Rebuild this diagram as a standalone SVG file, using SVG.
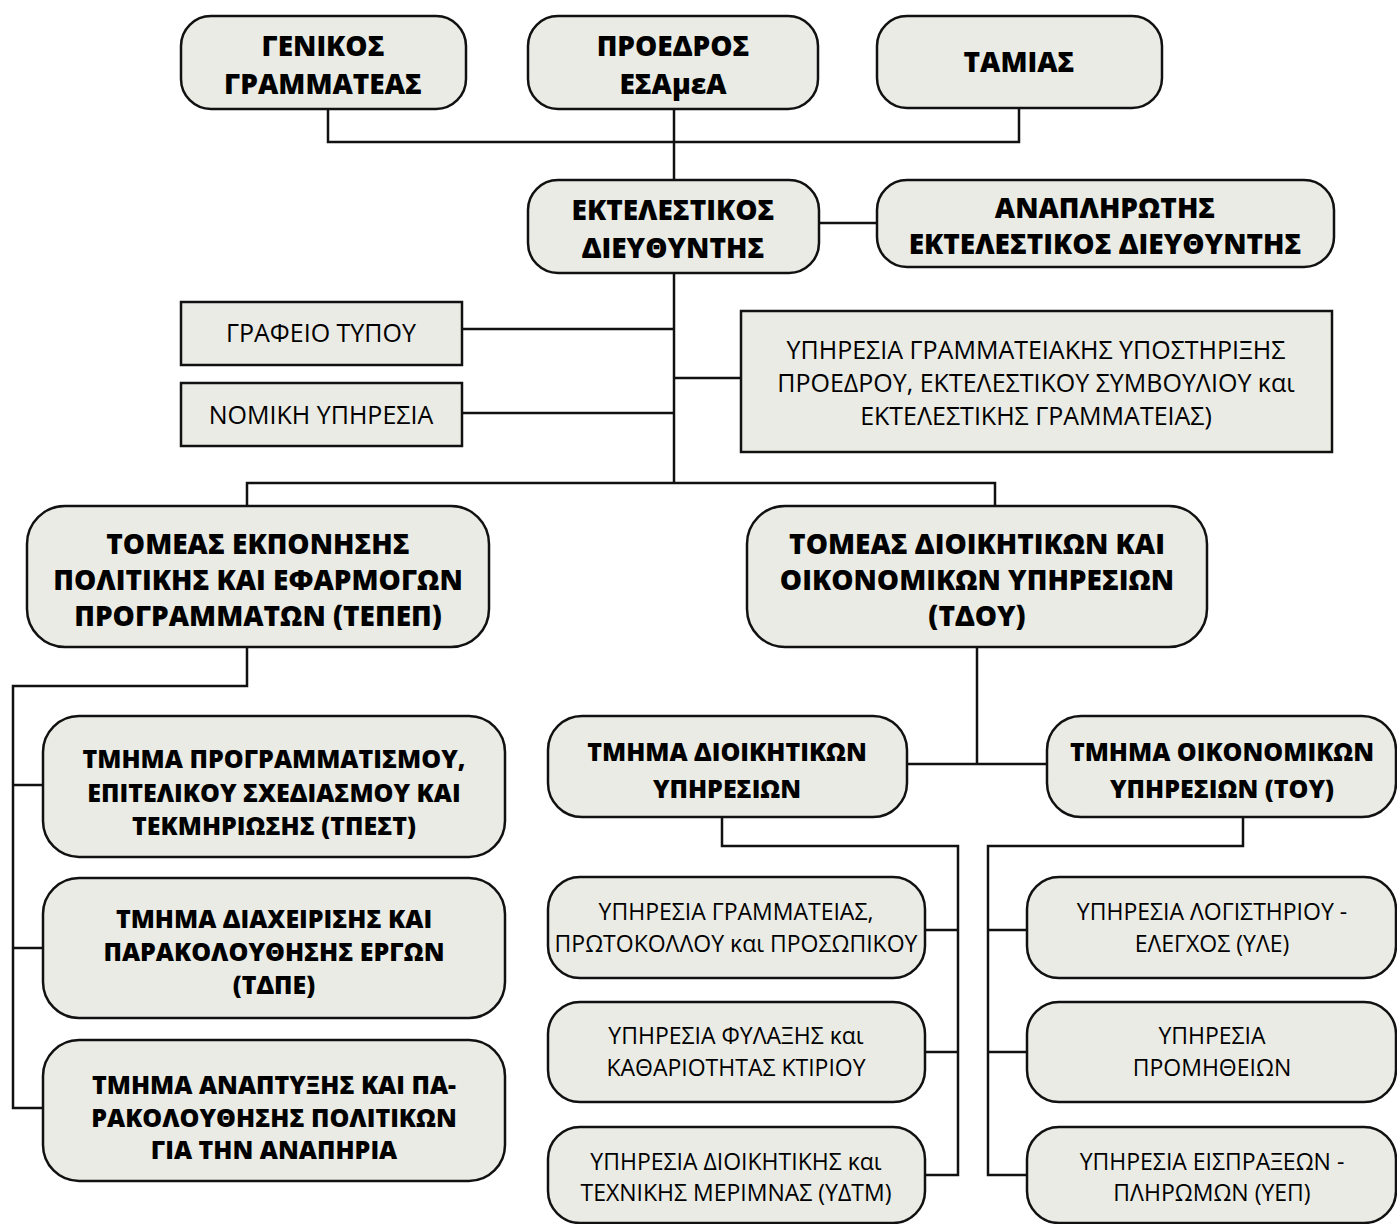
<svg xmlns="http://www.w3.org/2000/svg" width="1397" height="1224" viewBox="0 0 1397 1224">
<style>
.n{fill:#e9ebe4;stroke:#111;stroke-width:2.5}
.c{fill:none;stroke:#111;stroke-width:2.5}
.b{font-family:"Open Sans","Noto Sans","DejaVu Sans",sans-serif;font-weight:800;fill:#000;text-anchor:middle}
.r{font-family:"Open Sans","Noto Sans","DejaVu Sans",sans-serif;font-weight:400;fill:#000;text-anchor:middle;font-size:23px}
.rt{font-size:25px}
.t{font-size:28px}
.m{font-size:28px}
.s{font-size:25px}
</style>
<rect width="1397" height="1224" fill="#fff"/>
<g id="connectors">
<path class="c" d="M328 110V142H1019V108"/>
<path class="c" d="M674 110V180"/>
<path class="c" d="M819 223H877"/>
<path class="c" d="M674 273V483"/>
<path class="c" d="M462 329H674"/>
<path class="c" d="M462 413H674"/>
<path class="c" d="M674 378H741"/>
<path class="c" d="M247 506V483H995V506"/>
<path class="c" d="M247 647V686H13V1108H43"/>
<path class="c" d="M13 785H43"/>
<path class="c" d="M13 948H43"/>
<path class="c" d="M977 647V764"/>
<path class="c" d="M907 764H1047"/>
<path class="c" d="M722 817V846H958V1175H925"/>
<path class="c" d="M925 930H958"/>
<path class="c" d="M925 1052H958"/>
<path class="c" d="M1243 817V846H988V1175H1027"/>
<path class="c" d="M988 930H1027"/>
<path class="c" d="M988 1052H1027"/>
</g>
<g id="n-genikos">
<rect class="n" x="181" y="16" width="285" height="93" rx="30"/>
<text class="b t" x="323" y="56">ΓΕΝΙΚΟΣ</text>
<text class="b t" x="323" y="94">ΓΡΑΜΜΑΤΕΑΣ</text>
</g>
<g id="n-proedros">
<rect class="n" x="528" y="16" width="290" height="93" rx="30"/>
<text class="b t" x="673" y="56">ΠΡΟΕΔΡΟΣ</text>
<text class="b t" x="673" y="94">ΕΣΑμεΑ</text>
</g>
<g id="n-tamias">
<rect class="n" x="877" y="16" width="285" height="92" rx="30"/>
<text class="b t" x="1019" y="72">ΤΑΜΙΑΣ</text>
</g>
<g id="n-ektelestikos">
<rect class="n" x="528" y="180" width="291" height="93" rx="30"/>
<text class="b t" x="673" y="220">ΕΚΤΕΛΕΣΤΙΚΟΣ</text>
<text class="b t" x="673" y="258">ΔΙΕΥΘΥΝΤΗΣ</text>
</g>
<g id="n-anaplirotis">
<rect class="n" x="877" y="180" width="457" height="87" rx="30"/>
<text class="b t" x="1105" y="218">ΑΝΑΠΛΗΡΩΤΗΣ</text>
<text class="b t" x="1105" y="254">ΕΚΤΕΛΕΣΤΙΚΟΣ ΔΙΕΥΘΥΝΤΗΣ</text>
</g>
<g id="n-grafeio">
<rect class="n" x="181" y="302" width="281" height="63"/>
<text class="r rt" x="321" y="342">ΓΡΑΦΕΙΟ ΤΥΠΟΥ</text>
</g>
<g id="n-nomiki">
<rect class="n" x="181" y="383" width="281" height="63"/>
<text class="r rt" x="321" y="424">ΝΟΜΙΚΗ ΥΠΗΡΕΣΙΑ</text>
</g>
<g id="n-grammateiaki">
<rect class="n" x="741" y="311" width="591" height="141"/>
<text class="r rt" x="1036" y="359">ΥΠΗΡΕΣΙΑ ΓΡΑΜΜΑΤΕΙΑΚΗΣ ΥΠΟΣΤΗΡΙΞΗΣ</text>
<text class="r rt" x="1036" y="392">ΠΡΟΕΔΡΟΥ, ΕΚΤΕΛΕΣΤΙΚΟΥ ΣΥΜΒΟΥΛΙΟΥ και</text>
<text class="r rt" x="1036" y="425">ΕΚΤΕΛΕΣΤΙΚΗΣ ΓΡΑΜΜΑΤΕΙΑΣ)</text>
</g>
<g id="n-tepep">
<rect class="n" x="27" y="506" width="462" height="141" rx="38"/>
<text class="b m" x="258" y="554">ΤΟΜΕΑΣ ΕΚΠΟΝΗΣΗΣ</text>
<text class="b m" x="258" y="590">ΠΟΛΙΤΙΚΗΣ ΚΑΙ ΕΦΑΡΜΟΓΩΝ</text>
<text class="b m" x="258" y="626">ΠΡΟΓΡΑΜΜΑΤΩΝ (ΤΕΠΕΠ)</text>
</g>
<g id="n-tdoy">
<rect class="n" x="747" y="506" width="460" height="141" rx="38"/>
<text class="b m" x="977" y="554">ΤΟΜΕΑΣ ΔΙΟΙΚΗΤΙΚΩΝ ΚΑΙ</text>
<text class="b m" x="977" y="590">ΟΙΚΟΝΟΜΙΚΩΝ ΥΠΗΡΕΣΙΩΝ</text>
<text class="b m" x="977" y="626">(ΤΔΟΥ)</text>
</g>
<g id="n-tpest">
<rect class="n" x="43" y="716" width="462" height="141" rx="36"/>
<text class="b s" x="274" y="768">ΤΜΗΜΑ ΠΡΟΓΡΑΜΜΑΤΙΣΜΟΥ,</text>
<text class="b s" x="274" y="802">ΕΠΙΤΕΛΙΚΟΥ ΣΧΕΔΙΑΣΜΟΥ ΚΑΙ</text>
<text class="b s" x="274" y="835">ΤΕΚΜΗΡΙΩΣΗΣ (ΤΠΕΣΤ)</text>
</g>
<g id="n-tdpe">
<rect class="n" x="43" y="878" width="462" height="140" rx="36"/>
<text class="b s" x="274" y="928">ΤΜΗΜΑ ΔΙΑΧΕΙΡΙΣΗΣ ΚΑΙ</text>
<text class="b s" x="274" y="961">ΠΑΡΑΚΟΛΟΥΘΗΣΗΣ ΕΡΓΩΝ</text>
<text class="b s" x="274" y="994">(ΤΔΠΕ)</text>
</g>
<g id="n-anaptyxis">
<rect class="n" x="43" y="1040" width="462" height="141" rx="36"/>
<text class="b s" x="274" y="1094">ΤΜΗΜΑ ΑΝΑΠΤΥΞΗΣ ΚΑΙ ΠΑ-</text>
<text class="b s" x="274" y="1127">ΡΑΚΟΛΟΥΘΗΣΗΣ ΠΟΛΙΤΙΚΩΝ</text>
<text class="b s" x="274" y="1159">ΓΙΑ ΤΗΝ ΑΝΑΠΗΡΙΑ</text>
</g>
<g id="n-tmima-dioik">
<rect class="n" x="548" y="716" width="359" height="101" rx="34"/>
<text class="b s" x="727" y="761">ΤΜΗΜΑ ΔΙΟΙΚΗΤΙΚΩΝ</text>
<text class="b s" x="727" y="798">ΥΠΗΡΕΣΙΩΝ</text>
</g>
<g id="n-tmima-oikon">
<rect class="n" x="1047" y="716" width="349" height="101" rx="34"/>
<text class="b s" x="1222" y="761">ΤΜΗΜΑ ΟΙΚΟΝΟΜΙΚΩΝ</text>
<text class="b s" x="1222" y="798">ΥΠΗΡΕΣΙΩΝ (ΤΟΥ)</text>
</g>
<g id="n-grammateias">
<rect class="n" x="548" y="877" width="377" height="101" rx="32"/>
<text class="r" x="736" y="920">ΥΠΗΡΕΣΙΑ ΓΡΑΜΜΑΤΕΙΑΣ,</text>
<text class="r" x="736" y="952">ΠΡΩΤΟΚΟΛΛΟΥ και ΠΡΟΣΩΠΙΚΟΥ</text>
</g>
<g id="n-fylaxis">
<rect class="n" x="548" y="1002" width="377" height="100" rx="32"/>
<text class="r" x="736" y="1044">ΥΠΗΡΕΣΙΑ ΦΥΛΑΞΗΣ και</text>
<text class="r" x="736" y="1076">ΚΑΘΑΡΙΟΤΗΤΑΣ ΚΤΙΡΙΟΥ</text>
</g>
<g id="n-ydtm">
<rect class="n" x="548" y="1127" width="377" height="96" rx="32"/>
<text class="r" x="736" y="1170">ΥΠΗΡΕΣΙΑ ΔΙΟΙΚΗΤΙΚΗΣ και</text>
<text class="r" x="736" y="1201">ΤΕΧΝΙΚΗΣ ΜΕΡΙΜΝΑΣ (ΥΔΤΜ)</text>
</g>
<g id="n-yle">
<rect class="n" x="1027" y="877" width="369" height="101" rx="32"/>
<text class="r" x="1212" y="920">ΥΠΗΡΕΣΙΑ ΛΟΓΙΣΤΗΡΙΟΥ -</text>
<text class="r" x="1212" y="952">ΕΛΕΓΧΟΣ (ΥΛΕ)</text>
</g>
<g id="n-promitheion">
<rect class="n" x="1027" y="1002" width="369" height="100" rx="32"/>
<text class="r" x="1212" y="1044">ΥΠΗΡΕΣΙΑ</text>
<text class="r" x="1212" y="1076">ΠΡΟΜΗΘΕΙΩΝ</text>
</g>
<g id="n-yep">
<rect class="n" x="1027" y="1127" width="369" height="96" rx="32"/>
<text class="r" x="1212" y="1170">ΥΠΗΡΕΣΙΑ ΕΙΣΠΡΑΞΕΩΝ -</text>
<text class="r" x="1212" y="1201">ΠΛΗΡΩΜΩΝ (ΥΕΠ)</text>
</g>
</svg>
